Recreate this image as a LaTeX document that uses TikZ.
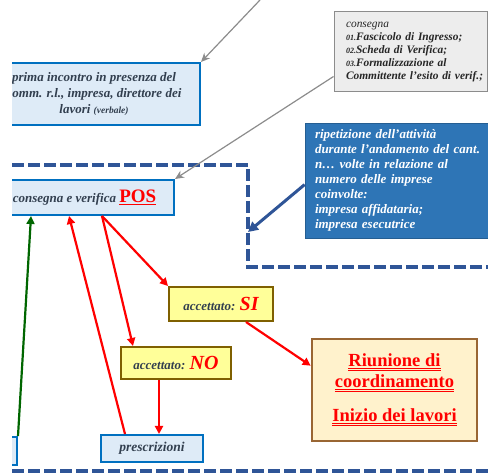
\documentclass[tikz,border=0pt]{standalone}
\usepackage{fontspec}
\setmainfont{Liberation Serif}
\usetikzlibrary{arrows.meta,calc}
\newcommand{\myul}[1]{$\underline{\hbox{#1}}$}
\newcommand{\myuul}[1]{$\underline{\underline{\hbox{#1}}}$}
\definecolor{lbfill}{HTML}{DEEBF7}
\definecolor{lbdraw}{HTML}{0070C0}
\definecolor{slate}{HTML}{323F4F}
\definecolor{dashblue}{HTML}{2F5597}
\definecolor{bluebox}{HTML}{2E75B6}
\definecolor{yfill}{HTML}{FFFF99}
\definecolor{ydraw}{HTML}{7F6000}
\definecolor{rfill}{HTML}{FFF2CC}
\definecolor{rdraw}{HTML}{996633}
\definecolor{grn}{HTML}{006600}
\definecolor{gline}{HTML}{8C8C8C}
\definecolor{gfill}{HTML}{EDEDED}
\tikzset{
  lbbox/.style={draw=lbdraw, fill=lbfill, line width=2pt, font=\bfseries\itshape, text=slate, align=center, inner sep=0pt},
  ybox/.style={draw=ydraw, fill=yfill, line width=2pt, text=slate, align=center, inner sep=0pt},
  dashline/.style={draw=dashblue, line width=3.6pt, dash pattern=on 12pt off 4pt},
  redarr/.style={draw=red, line width=2.2pt, -{Triangle[length=8pt,width=8pt]}},
  grayarr/.style={draw=gline, line width=1.2pt, -{Stealth[length=9pt,width=8pt]}},
}
\begin{document}
\begin{tikzpicture}[x=1pt,y=-1pt]
\useasboundingbox (0,0) rectangle (488,473);
\clip (12,0) rectangle (488,473);
% dashed frame
\draw[dashline] (12,165) -- (248,165) -- (248,267) -- (488,267);
\draw[dashline] (12,471) -- (488,471);
\coordinate (dc) at (248,232);
\coordinate (g1) at (260,0);
% boxes
\node[lbbox, minimum width=212, minimum height=62, font=\fontsize{13}{16}\selectfont\bfseries\itshape] (b1) at (94,94)
  {prima incontro in presenza del\\comm. r.l., impresa, direttore dei\\lavori {\fontsize{9.5}{10}\selectfont (verbale)}};
\node[lbbox, minimum width=179, minimum height=35, font=\fontsize{13}{15}\selectfont\bfseries\itshape] (pos) at (84.5,197.5)
  {consegna e verifica {\fontsize{19}{19}\selectfont\upshape\color{red}\myul{POS}}};
\node[ybox, minimum width=104, minimum height=34] (si) at (221,304)
  {{\fontsize{13}{14}\selectfont\bfseries\itshape accettato: }{\fontsize{20}{20}\selectfont\bfseries\itshape\color{red}SI}};
\node[ybox, minimum width=110, minimum height=32] (no) at (176,363)
  {{\fontsize{13}{14}\selectfont\bfseries\itshape accettato: }{\fontsize{20}{20}\selectfont\bfseries\itshape\color{red}NO}};
\node[lbbox, minimum width=102, minimum height=27, font=\fontsize{13.5}{14}\selectfont\bfseries\itshape] (pres) at (152,448.5) {prescrizioni};
\node[lbbox, minimum width=74, minimum height=28] (bl) at (-20,451) {};
\node[draw=rdraw, fill=rfill, line width=2.6pt, minimum width=165, minimum height=102, align=center, inner sep=0pt,
  text=red, font=\fontsize{18.5}{21}\selectfont\bfseries] (riu) at (394.5,390)
  {\myuul{Riunione di}\\\myuul{coordinamento}\\[13pt]\myuul{Inizio dei lavori}};
\node[draw=gline, fill=gfill, line width=1pt, minimum width=153, minimum height=80, align=left, inner sep=0pt,
  text width=147, text=black!85, font=\fontsize{11.4}{13}\selectfont\itshape] (gray) at (410.5,52)
  {\hspace*{9pt}consegna\\
   \hspace*{9pt}\textbf{{\fontsize{8}{8}\selectfont 01.}Fascicolo di Ingresso;}\\
   \hspace*{9pt}\textbf{{\fontsize{8}{8}\selectfont 02.}Scheda di Verifica;}\\
   \hspace*{9pt}\textbf{{\fontsize{8}{8}\selectfont 03.}Formalizzazione al}\\
   \hspace*{9pt}\textbf{Committente l'esito di verif.;}};
\node[draw=bluebox!80!black, fill=bluebox, line width=0.8pt, minimum width=200, minimum height=115, align=left, inner sep=0pt,
  text width=180, text=white, font=\fontsize{13}{15}\selectfont\bfseries\itshape] (blue) at (405,180.5)
  {ripetizione dell'attività\\
   durante l'andamento del cant.\\
   n… volte in relazione al\\
   numero delle imprese\\
   coinvolte:\\
   impresa affidataria;\\
   impresa esecutrice};
% connectors
\draw[grayarr] (g1) -- (b1.north east);
\draw[gline, line width=1.2pt, -{Stealth[length=9pt,width=8pt]}] ([yshift=-65]gray.north west) -- (pos.north east);
\draw[dashblue, line width=3pt, -{Triangle[length=10pt,width=10pt]}] ([yshift=-62]blue.north west) -- (dc);
\draw[grn, line width=2.2pt, -{Triangle[length=8pt,width=8pt]}] (bl.north east) -- ([xshift=37]pos.south west);
\draw[redarr] ([xshift=25]pres.north west) -- ([xshift=75]pos.south west);
\draw[redarr] ([xshift=108]pos.south west) -- (si.north west);
\draw[redarr] ([xshift=108]pos.south west) -- ([xshift=13]no.north west);
\draw[redarr] ([xshift=39]no.south west) -- ([xshift=59]pres.north west);
\draw[redarr] ([xshift=-28]si.south east) -- ([yshift=-28]riu.north west);
\end{tikzpicture}
\end{document}
